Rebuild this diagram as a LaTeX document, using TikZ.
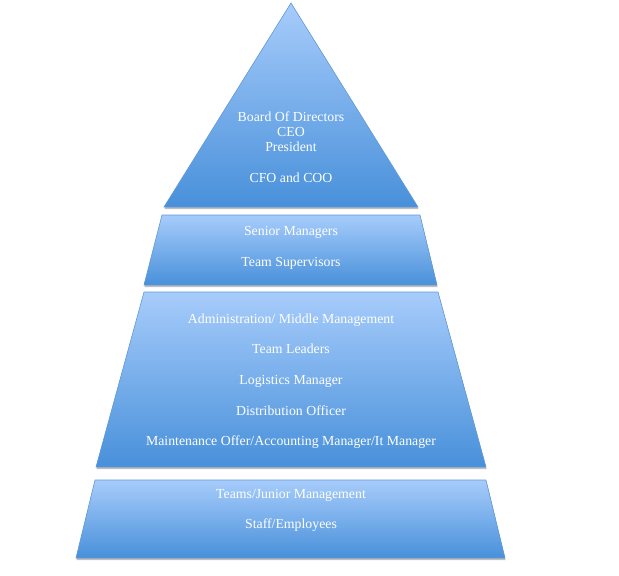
\documentclass[tikz,border=0pt]{standalone}
\usepackage{fontspec}
\setmainfont{Liberation Serif}
\usetikzlibrary{shadows}
\definecolor{tierTop}{HTML}{A7CCFB}
\definecolor{tierBot}{HTML}{4890DA}
\definecolor{tierEdge}{HTML}{5E98D8}
\begin{document}
\begin{tikzpicture}[x=1pt,y=-1pt,
  tier/.style={draw=tierEdge, line width=0.6pt, top color=tierTop, bottom color=tierBot,
    drop shadow={shadow xshift=0.5pt, shadow yshift=-2pt, fill=black, opacity=0.25}},
  lbl/.style={text=white, font=\fontsize{13.8}{15}\selectfont, inner sep=0pt, anchor=base}]
\useasboundingbox (0,0) rectangle (619,576);
\path[tier] (291,3) -- (418,207) -- (164,207) -- cycle;
\path[tier] (162,215) -- (420,215) -- (437,285) -- (144,285) -- cycle;
\path[tier] (144,292) -- (438,292) -- (486,467) -- (96,467) -- cycle;
\path[tier] (95,480) -- (486,480) -- (505,558) -- (76,558) -- cycle;
\node[lbl] (bod) at (291,121.5) {Board Of Directors};
\node[lbl] (ceo) at (291,136.5) {CEO};
\node[lbl] (pres) at (291,151.5) {President};
\node[lbl] (cfo) at (291,182.5) {CFO and COO};
\node[lbl] (sen) at (291,235.5) {Senior Managers};
\node[lbl] (sup) at (291,266.5) {Team Supervisors};
\node[lbl] (adm) at (291,323.5) {Administration/ Middle Management};
\node[lbl] (tl) at (291,353.5) {Team Leaders};
\node[lbl] (log) at (291,384.5) {Logistics Manager};
\node[lbl] (dist) at (291,415.5) {Distribution Officer};
\node[lbl] (mnt) at (291,445.5) {Maintenance Offer/Accounting Manager/It Manager};
\node[lbl] (jun) at (291,498.5) {Teams/Junior Management};
\node[lbl] (staff) at (291,528.5) {Staff/Employees};
\end{tikzpicture}
\end{document}
